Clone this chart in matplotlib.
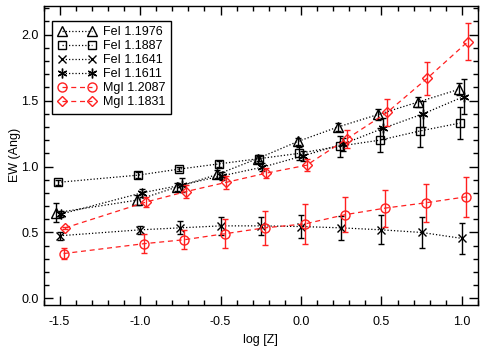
import matplotlib
matplotlib.use("Agg")
import matplotlib.pyplot as plt
import numpy as np
from matplotlib.ticker import MultipleLocator

plt.rcParams['font.family'] = ['Liberation Sans', 'DejaVu Sans']

logz = [-1.5, -1.0, -0.75, -0.5, -0.25, 0.0, 0.25, 0.5, 0.75, 1.0]

# FeI lines
fe1976 = [0.65, 0.745, 0.845, 0.94, 1.06, 1.19, 1.30, 1.395, 1.49, 1.585]
fe1976_err = [0.07, 0.04, 0.03, 0.03, 0.03, 0.03, 0.03, 0.04, 0.04, 0.045]
fe1887 = [0.88, 0.935, 0.98, 1.02, 1.06, 1.10, 1.155, 1.20, 1.27, 1.33]
fe1887_err = [0.02, 0.02, 0.015, 0.02, 0.02, 0.05, 0.08, 0.09, 0.12, 0.12]
fe1641 = [0.475, 0.52, 0.535, 0.55, 0.55, 0.545, 0.535, 0.52, 0.50, 0.455]
fe1641_err = [0.03, 0.03, 0.05, 0.07, 0.07, 0.09, 0.09, 0.11, 0.115, 0.115]
fe1611 = [0.64, 0.80, 0.86, 0.93, 0.995, 1.08, 1.17, 1.29, 1.40, 1.53]
fe1611_err = [0.02, 0.03, 0.05, 0.03, 0.03, 0.04, 0.05, 0.08, 0.10, 0.13]

# MgI lines
mg2087 = [0.34, 0.415, 0.445, 0.49, 0.535, 0.565, 0.635, 0.685, 0.725, 0.77]
mg2087_err = [0.045, 0.07, 0.07, 0.11, 0.13, 0.15, 0.135, 0.14, 0.145, 0.15]
mg1831 = [0.535, 0.73, 0.81, 0.88, 0.95, 1.01, 1.21, 1.41, 1.67, 1.945]
mg1831_err = [0.01, 0.04, 0.05, 0.05, 0.04, 0.045, 0.07, 0.10, 0.125, 0.14]

fig = plt.figure(figsize=(4.91, 3.53), dpi=100)
ax = fig.add_axes([0.0886, 0.136, 0.885, 0.848])

dots = (0, (1, 1.6))
dash = (0, (4, 3))
red = '#ff2020'
x = np.array(logz)
series = [
    (fe1976, fe1976_err, '^', 7, 'black', dots, -0.02, 'FeI 1.1976'),
    (fe1887, fe1887_err, 's', 5.5, 'black', dots, -0.01, 'FeI 1.1887'),
    (fe1641, fe1641_err, 'x', 6, 'black', dots, 0.0, 'FeI 1.1641'),
    (fe1611, fe1611_err, (6, 2, 0), 7, 'black', dots, 0.01, 'FeI 1.1611'),
    (mg2087, mg2087_err, 'o', 6.5, red, dash, 0.025, 'MgI 1.2087'),
    (mg1831, mg1831_err, 'D', 4.8, red, dash, 0.035, 'MgI 1.1831'),
]

for y, err, mk, ms, col, ls, dx, lab in series:
    ax.errorbar(x + dx, y, yerr=err, fmt='none', ecolor=col, elinewidth=1,
                capsize=2.2, capthick=1)
    ax.plot(x + dx, y, linestyle=ls, color=col, lw=0.9, marker=mk, ms=ms,
            mfc='none', mec=col, mew=1, label=lab)

ax.set_xlim(-1.6, 1.1)
ax.set_ylim(-0.05, 2.22)
ax.xaxis.set_major_locator(MultipleLocator(0.5))
ax.xaxis.set_minor_locator(MultipleLocator(0.1))
ax.yaxis.set_major_locator(MultipleLocator(0.5))
ax.yaxis.set_minor_locator(MultipleLocator(0.1))
ax.xaxis.set_major_formatter(plt.FuncFormatter(lambda v, p: '%.1f' % v))
ax.yaxis.set_major_formatter(plt.FuncFormatter(lambda v, p: '%.1f' % v))
ax.tick_params(which='both', direction='in', top=True, right=True, labelsize=9, width=1)
ax.tick_params(which='major', length=6.5)
ax.tick_params(which='minor', length=3.5)
ax.tick_params(axis='x', which='major', pad=8)
ax.tick_params(axis='y', which='major', pad=3.5)
for s in ax.spines.values():
    s.set_linewidth(1)

ax.set_xlabel('log [Z]', fontsize=9, labelpad=4)
ax.set_ylabel('EW (Ang)', fontsize=9, labelpad=0.5)

leg = ax.legend(loc='upper left', bbox_to_anchor=(0.02, 0.95), numpoints=2, fontsize=9,
                frameon=True, fancybox=False, edgecolor='black', framealpha=1,
                handlelength=3.0, handletextpad=0.6, labelspacing=0.16,
                borderpad=0.45, borderaxespad=0.0)
leg.get_frame().set_linewidth(1)

fig.savefig('out.png', dpi=100)
